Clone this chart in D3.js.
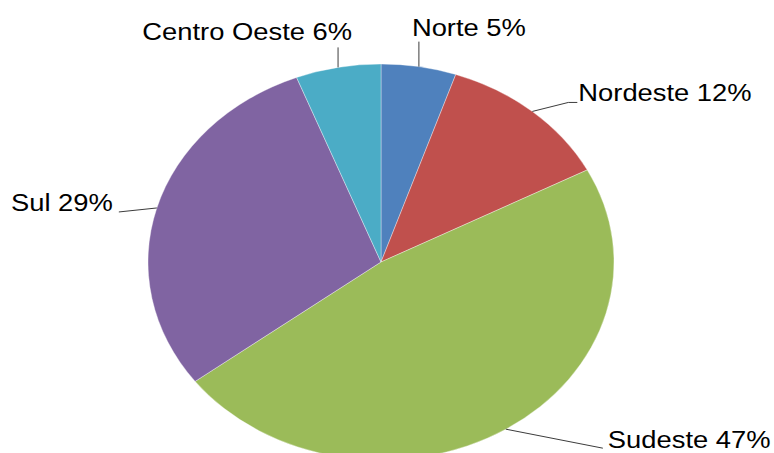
<!DOCTYPE html>
<html>
<head>
<meta charset="utf-8">
<script src="https://cdn.jsdelivr.net/npm/d3@7"></script>
<style>
  html, body { margin: 0; padding: 0; background: #fff; }
  svg { display: block; }
</style>
</head>
<body>
<div id="chartArea"></div>
<script>
// data
let regions = ["Norte", "Nordeste", "Sudeste", "Sul", "Centro Oeste"];
let shares = [5.2, 12.1, 47.4, 29.4, 5.9];
let colours = ["#4f81bd", "#c0504d", "#9bbb59", "#8064a2", "#4bacc6"];

// where each label sits relative to its slice edge point:
// [elbow dx, elbow dy, line end dx, line end dy, text dx, text dy, anchor]
let labelLayout = [
   [0, -25, 0, -25, -7, -31, "start"],
   [36, -9, 45, -9, 46, -10, "start"],
   [97, 19, 97, 19, 102, 19, "start"],
   [-38, 4, -38, 4, -44, 3, "end"],
   [0, -20, 0, -20, 14, -27, "end"]
];

const W = 774, H = 453;
const cx = 381, cy = 262, ry = 198, rx = 233;
const sx = rx / ry;
const textScale = 1.14;

let svg = d3.select('#chartArea').append('svg')
   .attr('width', W)
   .attr('height', H);

svg.append('rect').attr('width', W).attr('height', H).attr('fill', '#fff');

let pie = d3.pie().sort(null).value(d => d);
let arcs = pie(shares);
let arc = d3.arc().innerRadius(0).outerRadius(ry);

let g = svg.append('g')
   .attr('transform', `translate(${cx},${cy}) scale(${sx},1)`);

g.selectAll('path').data(arcs)
   .enter().append('path')
   .attr('d', arc)
   .attr('fill', (d, i) => colours[i])
   .attr('stroke', 'rgba(255,255,255,0.45)')
   .attr('stroke-width', 0.8)
   .attr('vector-effect', 'non-scaling-stroke');

let labels = svg.append('g');

arcs.forEach(function (d, i) {
   let a = (d.startAngle + d.endAngle) / 2;
   let px = cx + rx * Math.sin(a);
   let py = cy - ry * Math.cos(a);
   let L = labelLayout[i];
   labels.append('polyline')
      .attr('points', `${px},${py} ${px + L[0]},${py + L[1]} ${px + L[2]},${py + L[3]}`)
      .attr('fill', 'none')
      .attr('stroke', '#3c3c3c')
      .attr('stroke-width', 1);
   labels.append('text')
      .attr('transform', `translate(${px + L[4]},${py + L[5]}) scale(${textScale},1)`)
      .attr('text-anchor', L[6])
      .attr('font-family', 'Liberation Sans, Arial, sans-serif')
      .attr('font-size', 24)
      .attr('fill', '#000')
      .text(`${regions[i]} ${Math.round(shares[i])}%`);
});
</script>
</body>
</html>
